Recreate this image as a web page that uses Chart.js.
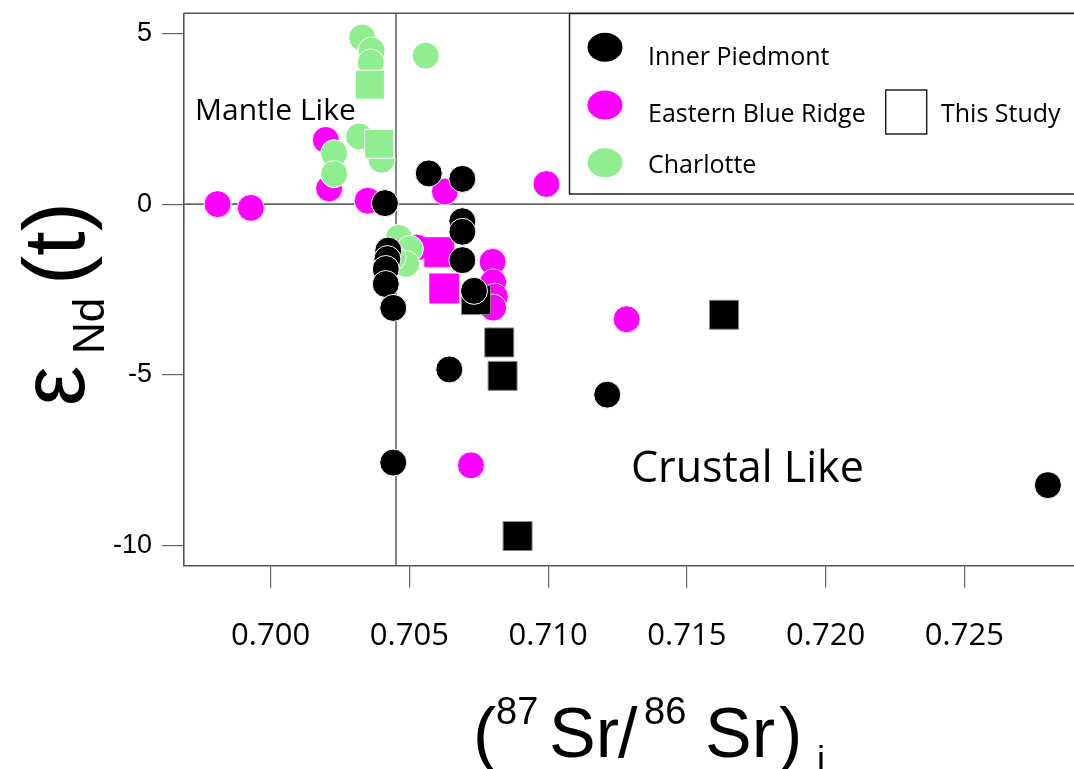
<!DOCTYPE html>
<html>
<head>
<meta charset="utf-8">
<script src="https://cdn.jsdelivr.net/npm/chart.js@4.4.1/dist/chart.umd.min.js"></script>
<style>
html, body { margin: 0; padding: 0; background: #fff; }
</style>
</head>
<body>
<canvas id="srNd" width="1074" height="769"></canvas>
<script>
// (87Sr/86Sr)i vs eNd(t)
const ipSr = [0.70412, 0.70570, 0.70691, 0.70691, 0.70691, 0.70691, 0.70424, 0.70421, 0.70415, 0.70415, 0.70442, 0.70733, 0.70644, 0.71213, 0.70442, 0.72801];
const ipNd = [0.03, 0.90, 0.74, -0.50, -0.81, -1.64, -1.36, -1.61, -1.90, -2.34, -3.04, -2.54, -4.84, -5.58, -7.57, -8.23];

const ebrSr = [0.69809, 0.69929, 0.70199, 0.70211, 0.70350, 0.70628, 0.70994, 0.70526, 0.70800, 0.70802, 0.70808, 0.70802, 0.71283, 0.70722];
const ebrNd = [0.00, -0.11, 1.88, 0.46, 0.10, 0.37, 0.59, -1.27, -1.69, -2.29, -2.71, -3.03, -3.37, -7.65];

const chSr = [0.70330, 0.70364, 0.70361, 0.70559, 0.70319, 0.70229, 0.70229, 0.70400, 0.70462, 0.70502, 0.70488, 0.70440];
const chNd = [4.88, 4.50, 4.15, 4.35, 1.98, 1.49, 0.88, 1.30, -0.99, -1.31, -1.75, -1.56];

// this study (squares)
const studyIpSr = [0.70740, 0.70824, 0.70836, 0.70890, 0.71634];
const studyIpNd = [-2.81, -4.05, -5.03, -9.72, -3.24];
const studyEbrSr = [0.70608, 0.70626];
const studyEbrNd = [-1.41, -2.47];
const studyChSr = [0.70358, 0.70391];
const studyChNd = [3.50, 1.77];

const xTicks = [0.700, 0.705, 0.710, 0.715, 0.720, 0.725];
const yTicks = [5, 0, -5, -10];
const bulkEarthSr = 0.70452;
const churNd = 0;

const legendItems = ["Inner Piedmont", "Eastern Blue Ridge", "Charlotte"];
const legendColors = ["#000000", "#ff00ff", "#90ee90"];

const toPts = (xs, ys) => xs.map((x, i) => ({ x: x, y: ys[i] }));

const circleSet = (label, xs, ys, color, order) => ({
    label, data: toPts(xs, ys), order,
    pointStyle: "circle", pointRadius: 13.5,
    backgroundColor: color, borderColor: "#ffffff", borderWidth: 1
});
const squareSet = (label, xs, ys, color, edge, order) => ({
    label, data: toPts(xs, ys), order,
    pointStyle: "rect", pointRadius: 20.5,
    backgroundColor: color, borderColor: edge, borderWidth: 1
});

const noPad = s => { s.paddingLeft = 0; s.paddingRight = 0; s.paddingTop = 0; s.paddingBottom = 0; };

// reference lines + frame top, under the points
const refLines = {
    id: "refLines",
    beforeDatasetsDraw(chart) {
        const { ctx, chartArea: a, scales: { x, y } } = chart;
        ctx.save();
        ctx.strokeStyle = "#666";
        ctx.lineWidth = 1.6;
        const vx = x.getPixelForValue(bulkEarthSr);
        const hy = y.getPixelForValue(churNd);
        ctx.beginPath();
        ctx.moveTo(vx, a.top); ctx.lineTo(vx, a.bottom);
        ctx.moveTo(a.left, hy); ctx.lineTo(a.right, hy);
        ctx.stroke();
        ctx.strokeStyle = "#555";
        ctx.beginPath();
        ctx.moveTo(a.left, a.top); ctx.lineTo(a.right, a.top);
        ctx.stroke();
        ctx.restore();
    }
};

// legend box, region labels and axis titles
const overlay = {
    id: "overlay",
    afterDraw(chart) {
        const ctx = chart.ctx;
        ctx.save();

        // legend
        ctx.fillStyle = "#fff";
        ctx.fillRect(569.5, 13.5, 520, 180.5);
        ctx.strokeStyle = "#222";
        ctx.lineWidth = 1.5;
        ctx.strokeRect(569.5, 13.5, 520, 180.5);
        const markY = [47.3, 105, 162.7];
        const textY = [65, 121.7, 173.3];
        ctx.font = '25px "Open Sans"';
        ctx.textAlign = "left";
        ctx.textBaseline = "alphabetic";
        legendItems.forEach((t, i) => {
            ctx.fillStyle = legendColors[i];
            ctx.beginPath();
            ctx.ellipse(605, markY[i], 17.5, 14.5, 0, 0, Math.PI * 2);
            ctx.fill();
            ctx.fillStyle = "#000";
            ctx.fillText(t, 648, textY[i]);
        });
        ctx.strokeRect(885.7, 90, 41, 44);
        ctx.fillText("This Study", 941, 121.7);

        // region labels
        ctx.font = '30px "Open Sans"';
        ctx.fillText("Mantle Like", 195, 120);
        ctx.font = '43px "Open Sans"';
        ctx.fillText("Crustal Like", 631, 482);

        // x title: (87Sr/86Sr)i
        const xt = [
            ["(", 473, 757, 70], ["87", 496, 724, 38], ["Sr", 549, 757, 70], ["/", 618, 757, 70],
            ["86", 644, 724, 38], ["Sr", 705, 757, 70], [")", 779, 757, 70], ["i", 817, 772, 36]
        ];
        xt.forEach(([s, px, py, f]) => {
            ctx.font = f + 'px "Liberation Sans"';
            ctx.fillText(s, px, py);
        });

        // y title: eNd(t), rotated
        ctx.translate(84, 404);
        ctx.rotate(-Math.PI / 2);
        ctx.font = '90px "Liberation Sans"';
        ctx.fillText("\u03B5", -2, 0);
        ctx.font = '44px "Liberation Sans"';
        ctx.fillText("Nd", 50, 20);
        ctx.font = '88px "Liberation Sans"';
        ctx.fillText("(t)", 119, 0);

        ctx.restore();
    }
};

const chart = new Chart(document.getElementById("srNd").getContext("2d"), {
    type: "scatter",
    data: {
        datasets: [
            circleSet("Eastern Blue Ridge", ebrSr, ebrNd, "#ff00ff", 6),
            squareSet("EBR (this study)", studyEbrSr, studyEbrNd, "#ff00ff", "#ff00ff", 5),
            circleSet("Charlotte", chSr, chNd, "#90ee90", 4),
            squareSet("Charlotte (this study)", studyChSr, studyChNd, "#90ee90", "#ffffff", 3),
            squareSet("IP (this study)", studyIpSr, studyIpNd, "#000000", "#888888", 2),
            circleSet("Inner Piedmont", ipSr, ipNd, "#000000", 1)
        ]
    },
    options: {
        responsive: false,
        animation: false,
        layout: { autoPadding: false, padding: { top: 13.3, left: 0, right: 0, bottom: 0 } },
        plugins: { legend: { display: false }, tooltip: { enabled: false } },
        scales: {
            x: {
                type: "linear",
                min: 0.69688,
                max: 0.72895,
                afterFit: s => { s.height = 769 - 565.7; noPad(s); },
                afterBuildTicks: s => { s.ticks = xTicks.map(v => ({ value: v })); },
                grid: { drawOnChartArea: false, drawTicks: true, tickLength: 22, color: "#666", lineWidth: 1.2 },
                border: { display: true, color: "#555", width: 1.6 },
                ticks: {
                    color: "#000",
                    padding: 30,
                    maxRotation: 0,
                    font: { family: "Open Sans", size: 31 },
                    callback: v => Number(v).toFixed(3)
                }
            },
            y: {
                type: "linear",
                min: -10.59,
                max: 5.59,
                afterFit: s => { s.width = 184; noPad(s); },
                afterBuildTicks: s => { s.ticks = yTicks.map(v => ({ value: v })); },
                grid: { drawOnChartArea: false, drawTicks: true, tickLength: 22, color: "#666", lineWidth: 1.2 },
                border: { display: true, color: "#555", width: 1.6 },
                ticks: {
                    color: "#000",
                    padding: 10,
                    font: { family: "Liberation Sans", size: 27 },
                    callback: v => String(v)
                }
            }
        }
    },
    plugins: [refLines, overlay]
});
</script>
</body>
</html>
